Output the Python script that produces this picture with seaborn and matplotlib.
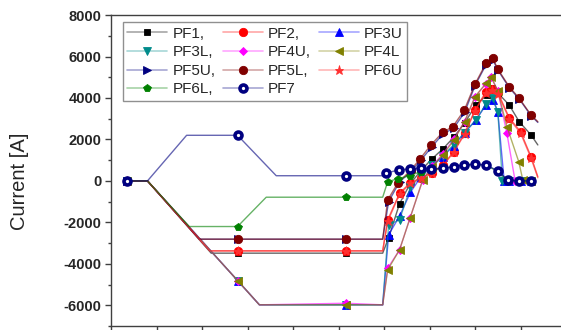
import numpy as np
import seaborn as sns
import matplotlib
matplotlib.use("Agg")
import matplotlib.pyplot as plt
from matplotlib.colors import to_rgba
from matplotlib.lines import Line2D

sns.set_theme(style="white")
plt.rcParams['font.family'] = ['Liberation Sans', 'DejaVu Sans']

# values (x in axis-tick units, current in A)
pf1_x = [0.36, 0.80, 2.20, 2.78, 5.16, 5.97, 6.10, 6.34, 6.57, 6.81, 7.05, 7.29, 7.53, 7.77, 8.02, 8.26, 8.37, 8.50, 8.75, 8.97, 9.23, 9.38]
pf1_y = [0, 0, -3485, -3485, -3485, -3485, -2750, -1100, -150, 500, 1060, 1540, 2100, 2800, 3663, 4150, 4500, 4250, 3663, 2858, 2217, 1735]

pf2_x = [0.36, 0.80, 2.17, 2.78, 5.16, 5.97, 6.08, 6.34, 6.58, 6.81, 7.05, 7.29, 7.53, 7.77, 8.00, 8.24, 8.37, 8.50, 8.75, 9.00, 9.23, 9.38]
pf2_y = [0, 0, -3374, -3374, -3374, -3374, -1880, -593, -82, 150, 400, 750, 1412, 2300, 3422, 4304, 4420, 4275, 3051, 2376, 1171, 207]

pf3u_x = [0.36, 0.80, 2.78, 3.26, 5.16, 5.97, 6.10, 6.34, 6.58, 6.81, 7.05, 7.29, 7.53, 7.77, 8.02, 8.24, 8.39, 8.50, 8.64, 8.75, 9.00, 9.23]
pf3u_y = [0, 0, -4805, -5977, -5977, -5977, -2600, -1700, -550, 200, 700, 1171, 1700, 2328, 2940, 3663, 3900, 3340, 0, 0, 0, 0]

pf3l_x = [0.36, 0.80, 2.78, 3.26, 5.16, 5.97, 6.10, 6.34, 6.58, 6.81, 7.05, 7.29, 7.53, 7.77, 8.02, 8.24, 8.39, 8.50, 8.60, 8.75, 9.00, 9.23]
pf3l_y = [0, 0, -4805, -5977, -5977, -5977, -2120, -1880, -300, 250, 750, 1200, 1750, 2328, 2940, 3711, 3986, 3340, 0, 0, 0, 0]

pf4u_x = [0.36, 0.80, 2.78, 3.26, 5.16, 5.97, 6.08, 6.34, 6.57, 6.85, 7.05, 7.29, 7.53, 7.77, 8.00, 8.24, 8.35, 8.50, 8.70, 8.88, 9.00, 9.23]
pf4u_y = [0, 0, -4805, -5977, -5900, -5977, -4208, -3326, -1798, 48, 700, 1300, 2000, 2858, 4063, 4675, 5028, 4338, 2300, 0, 0, 0]

pf4l_x = [0.36, 0.80, 2.78, 3.26, 5.16, 5.97, 6.08, 6.34, 6.57, 6.85, 7.05, 7.29, 7.53, 7.77, 8.00, 8.24, 8.35, 8.50, 8.70, 8.96, 9.05, 9.23]
pf4l_y = [0, 0, -4805, -5977, -5977, -5977, -4290, -3326, -1798, 48, 650, 1250, 1950, 2858, 4063, 4709, 5028, 4338, 2617, 930, 48, 0]

pf5u_x = [0.36, 0.80, 1.94, 2.78, 5.16, 5.97, 6.10, 6.34, 6.59, 6.81, 7.05, 7.29, 7.53, 7.77, 8.00, 8.24, 8.39, 8.50, 8.75, 8.97, 9.23, 9.38]
pf5u_y = [0, 0, -2810, -2810, -2810, -2810, -1000, -50, 450, 1000, 1650, 2250, 2550, 3300, 4600, 5600, 5850, 5350, 4500, 3950, 3150, 2820]

pf5l_x = [0.36, 0.80, 1.94, 2.78, 5.16, 5.97, 6.08, 6.30, 6.59, 6.79, 7.03, 7.29, 7.51, 7.76, 8.00, 8.24, 8.39, 8.50, 8.75, 8.97, 9.23, 9.38]
pf5l_y = [0, 0, -2810, -2810, -2810, -2810, -916, -111, 530, 1060, 1735, 2347, 2617, 3400, 4675, 5673, 5914, 5398, 4545, 3986, 3181, 2858]

pf6u_x = [0.36, 0.80, 2.17, 2.78, 5.16, 5.97, 6.08, 6.34, 6.58, 6.81, 7.05, 7.29, 7.53, 7.77, 8.00, 8.24, 8.37, 8.50, 8.75, 9.00, 9.23, 9.38]
pf6u_y = [0, 0, -3374, -3374, -3374, -3374, -1950, -650, -120, 120, 380, 720, 1380, 2250, 3380, 4250, 4400, 4200, 3000, 2300, 1100, 150]

pf6l_x = [0.36, 0.80, 1.72, 2.78, 3.41, 5.16, 5.97, 6.08, 6.30, 6.56, 6.81, 7.05, 7.29, 7.53, 7.77, 8.00, 8.24, 8.50, 8.72, 8.97, 9.23]
pf6l_y = [0, 0, -2200, -2200, -786, -786, -786, -34, 100, 250, 450, 550, 600, 680, 780, 790, 760, 460, 20, 0, 0]

pf7_x = [0.36, 0.80, 1.66, 2.78, 3.63, 5.16, 5.97, 6.04, 6.32, 6.56, 6.81, 7.03, 7.29, 7.53, 7.76, 8.00, 8.24, 8.50, 8.72, 8.97, 9.23]
pf7_y = [0, 0, 2200, 2200, 250, 250, 250, 371, 530, 578, 612, 580, 612, 690, 780, 800, 780, 480, 48, 0, 0]

# x positions that carry a symbol before the ramp
pre_marks = [0.36, 2.78, 5.16]

series = [
    ("PF1,", pf1_x, pf1_y, "#000000", "s", 5, None),
    ("PF2,", pf2_x, pf2_y, "#ff0000", "o", 6, None),
    ("PF3U", pf3u_x, pf3u_y, "#0000ff", "^", 5.5, None),
    ("PF3L,", pf3l_x, pf3l_y, "#008b8b", "v", 5.5, None),
    ("PF4U,", pf4u_x, pf4u_y, "#ff00ff", "D", 4, None),
    ("PF4L", pf4l_x, pf4l_y, "#808000", "<", 6, None),
    ("PF5U,", pf5u_x, pf5u_y, "#000080", ">", 5.5, None),
    ("PF5L,", pf5l_x, pf5l_y, "#800000", "o", 6, None),
    ("PF6U", pf6u_x, pf6u_y, "#ff3030", "*", 6.5, None),
    ("PF6L,", pf6l_x, pf6l_y, "#008000", "p", 6, None),
    ("PF7", pf7_x, pf7_y, "#000080", "o", 5, "white"),
]

fig = plt.figure(figsize=(5.61, 3.30), dpi=100)
ax = fig.add_axes([0.198, 0.012, 0.811, 0.9424])

handles = {}
for name, xs, ys, col, mk, ms, face in series:
    xs = np.asarray(xs)
    every = [i for i, v in enumerate(xs) if v in pre_marks or 6.0 < v < 9.3]
    fc = face if face else col
    mew = 2.6 if face else 0.6
    sns.lineplot(x=xs, y=np.asarray(ys), ax=ax, sort=False, color=to_rgba(col, 0.6),
                 linewidth=1.0, marker=mk, markersize=ms, markevery=every,
                 markerfacecolor=fc, markeredgecolor=col, markeredgewidth=mew)
    handles[name] = Line2D([0], [0], color=to_rgba(col, 0.35), linewidth=1.2, marker=mk,
                           markersize=ms, markerfacecolor=fc, markeredgecolor=col,
                           markeredgewidth=mew)

ax.set_xlim(0, 10)
ax.set_ylim(-7000, 8000)
ax.set_xticks(range(0, 11))
ax.set_xticklabels([])
ax.set_yticks(range(-6000, 8001, 2000))
ax.set_yticks(range(-7000, 8001, 1000), minor=True)
ax.set_yticklabels([str(v) for v in range(-6000, 8001, 2000)], fontsize=10.5, fontweight="bold")
ax.tick_params(axis="both", which="major", direction="out", length=4, width=1, color="#404040")
ax.tick_params(axis="y", which="minor", direction="out", length=2.5, width=1, color="#404040", left=True)
ax.tick_params(axis="x", bottom=True)
ax.tick_params(axis="y", left=True, pad=3)
for s in ax.spines.values():
    s.set_color("#404040")
    s.set_linewidth(1.0)

ax.set_ylabel("Current [A]", fontsize=14.5)
ax.yaxis.set_label_coords(-0.18, 0.466)

# legend is filled column by column, so order it to read row by row
order = ["PF1,", "PF3L,", "PF5U,", "PF6L,",
         "PF2,", "PF4U,", "PF5L,", "PF7",
         "PF3U", "PF4L", "PF6U"]
leg = ax.legend([handles[k] for k in order], order, ncol=3, loc="upper left",
                bbox_to_anchor=(0.219, 0.933), bbox_transform=fig.transFigure,
                borderaxespad=0, fontsize=11, handlelength=2.6, handletextpad=0.35,
                columnspacing=0.5, borderpad=0.3, labelspacing=0.3,
                fancybox=False, framealpha=1, edgecolor="#909090")
leg.get_frame().set_linewidth(1.0)

fig.savefig("out.png", dpi=100)
